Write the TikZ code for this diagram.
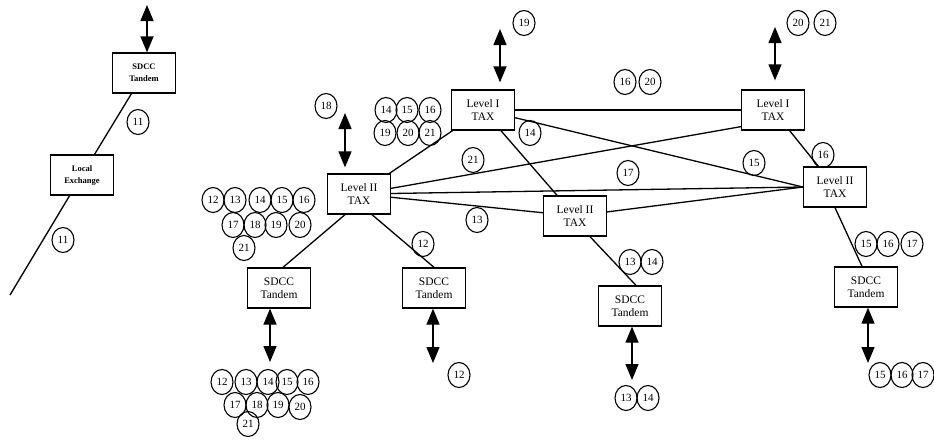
\documentclass[tikz,border=0pt]{standalone}
\usepackage{fontspec}
\setmainfont{Liberation Serif}
\usetikzlibrary{arrows.meta,shapes.geometric}
\tikzset{
  boite/.style={draw, line width=1.3pt, minimum width=63pt, minimum height=40pt,
    align=center, inner sep=1pt, font=\fontsize{11.5}{13}\selectfont},
  petite/.style={boite, font=\fontsize{8.5}{12}\selectfont\bfseries},
  num/.style={draw, ellipse, line width=1.1pt, minimum width=22pt, minimum height=25pt,
    inner sep=0pt, font=\fontsize{11}{11}\selectfont},
  lien/.style={line width=1.3pt},
  fleche/.style={{Triangle[length=16pt,width=13pt]}-{Triangle[length=16pt,width=13pt]}, line width=1.3pt},
}
\begin{document}
\begin{tikzpicture}[x=1pt,y=-1pt]
                \useasboundingbox (0,0) rectangle (934,442);
                % Noeuds
                \node[petite] (sdccA) at (144,73) {SDCC\\Tandem};
                \node[petite] (local) at (82,175) {Local\\Exchange};
                \node[boite] (l2g) at (359,194) {Level II\\TAX};
                \node[boite] (l1m) at (483,110) {Level I\\TAX};
                \node[boite] (l1d) at (773,110) {Level I\\TAX};
                \node[boite] (l2m) at (575,216) {Level II\\TAX};
                \node[boite] (l2d) at (835,187) {Level II\\TAX};
                \node[boite] (sdccB) at (279,288) {SDCC\\Tandem};
                \node[boite] (sdccC) at (434,288) {SDCC\\Tandem};
                \node[boite] (sdccD) at (630,306) {SDCC\\Tandem};
                \node[boite] (sdccE) at (866,287) {SDCC\\Tandem};
                \coordinate (bas) at (10,295);
                % Liaisons
                \draw[lien] (sdccA) -- (local);
                \draw[lien] (local) -- (bas);
                \draw[lien] (l2g) -- (l1m);
                \draw[lien] (l2g) -- ([yshift=4pt]l1d.south west);
                \draw[lien] (l2g) -- (l2d.west);
                \draw[lien] (l2g) -- (l2m);
                \draw[lien] (l1m) -- (l1d);
                \draw[lien] (l1m) -- (l2d.west);
                \draw[lien] (l2m) -- (l2d.west);
                \draw[lien] (l1m) -- (l2m);
                \draw[lien] (l1d) -- (l2d);
                \draw[lien] ([xshift=-14pt]l2g.south) -- ([xshift=4pt]sdccB.north);
                \draw[lien] ([xshift=13pt]l2g.south) -- (sdccC.north);
                \draw[lien] ([xshift=15pt]l2m.south) -- ([xshift=6pt]sdccD.north);
                \draw[lien] (l2d.south) -- ([xshift=-4pt]sdccE.north);
                % Fleches
                \coordinate (fA) at (147,5);
                \coordinate (fB) at (345,113);
                \coordinate (fC) at (500,29);
                \coordinate (fD) at (775,27);
                \coordinate (fE) at (270,362);
                \coordinate (fF) at (433,363);
                \coordinate (fG) at (632,380);
                \coordinate (fH) at (868,363);
                \draw[fleche] (fA) -- (fA |- sdccA.north);
                \draw[fleche, shorten >=6pt] (fB) -- (fB |- l2g.north);
                \draw[fleche, shorten >=7pt] (fC) -- (fC |- l1m.north);
                \draw[fleche, shorten >=9pt] (fD) -- (fD |- l1d.north);
                \draw[fleche] (fE |- sdccB.south) -- (fE);
                \draw[fleche] (fF |- sdccC.south) -- (fF);
                \draw[fleche] (fG |- sdccD.south) -- (fG);
                \draw[fleche] (fH |- sdccE.south) -- (fH);
                % Numeros
                \foreach \x/\y/\lab [count=\i] in {138/122/11, 63/240/11,
                    386/110/14, 407/110/15, 430/110/16, 385/133/19, 408/133/20, 430/133/21,
                    326/106/18, 524/23/19, 625/82/16, 650/82/20, 798/23/20, 825/23/21,
                    530/133/14, 473/160/21, 477/220/13, 628/173/17, 754/163/15, 823/155/16,
                    213/200/12, 235/200/13, 260/200/14, 282/200/15, 304/200/16,
                    233/225/17, 255/225/18, 276/225/19, 300/225/20, 244/248/21,
                    222/382/12, 246/382/13, 268/382/14, 287/382/15, 308/382/16,
                    235/405/17, 257/405/18, 278/405/19, 300/407/20, 248/424/21,
                    423/244/12, 459/375/12,
                    630/262/13, 652/262/14, 626/398/13, 648/398/14,
                    866/244/15, 888/244/16, 912/244/17, 880/375/15, 902/375/16, 923/375/17}
                    \node[num] (n\i) at (\x,\y) {\lab};
            \end{tikzpicture}
\end{document}
